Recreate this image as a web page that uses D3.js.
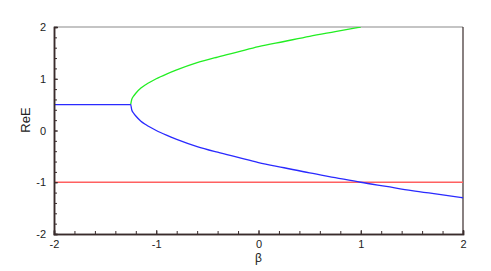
<!DOCTYPE html>
<html>
<head>
<meta charset="utf-8">
<script src="https://cdn.jsdelivr.net/npm/d3@7"></script>
<style>
  body { margin: 0; background: #fff; }
  text { font-family: "Liberation Sans", Arial, sans-serif; }
</style>
</head>
<body>
<svg id="chart" width="491" height="271"></svg>
<script>
// values
const betaUpper = [-1.25, -1.24, -1.22, -1.2, -1.15, -1.1, -1.0, -0.9, -0.8, -0.6, -0.4, -0.2, 0, 0.25, 0.5, 0.75, 1.0]
const reUpper = [0.5, 0.6, 0.67, 0.72, 0.82, 0.89, 1.0, 1.09, 1.17, 1.31, 1.42, 1.52, 1.62, 1.72, 1.82, 1.91, 2.0]

const betaLower = [-2, -1.6, -1.25, -1.24, -1.22, -1.2, -1.15, -1.1, -1.0, -0.9, -0.8, -0.6, -0.4, -0.2, 0, 0.25, 0.5, 0.75, 1.0, 1.25, 1.5, 1.75, 2]
const reLower = [0.5, 0.5, 0.5, 0.4, 0.33, 0.28, 0.18, 0.11, 0.0, -0.09, -0.17, -0.31, -0.42, -0.52, -0.62, -0.72, -0.82, -0.91, -1.0, -1.08, -1.16, -1.23, -1.30]

const betaFlat = [-2, 2]
const reFlat = [-1, -1]

const xTicks = [-2, -1, 0, 1, 2]
const yTicks = [-2, -1, 0, 1, 2]

const margin = { left: 54, top: 27, right: 28, bottom: 37 }
const width = 491 - margin.left - margin.right
const height = 271 - margin.top - margin.bottom

const svg = d3.select('#chart')
const g = svg.append('g').attr('transform', `translate(${margin.left},${margin.top})`)

const xScale = d3.scaleLinear().domain([-2, 2]).range([0, width])
const yScale = d3.scaleLinear().domain([-2, 2]).range([height, 0])

g.append('clipPath').attr('id', 'clip')
  .append('rect').attr('width', width).attr('height', height)

// frame: top and right
g.append('line').attr('x1', 0).attr('x2', width).attr('y1', 0).attr('y2', 0)
  .attr('stroke', '#8a8a8a').attr('stroke-width', 1.2)
g.append('line').attr('x1', width).attr('x2', width).attr('y1', 0).attr('y2', height)
  .attr('stroke', '#3a2c2c').attr('stroke-width', 1.2)

const line = d3.line().x(d => xScale(d[0])).y(d => yScale(d[1])).curve(d3.curveMonotoneX)
const zipped = (xs, ys) => xs.map((x, i) => [x, ys[i]])

const plot = g.append('g').attr('clip-path', 'url(#clip)')
plot.append('path').datum(zipped(betaFlat, reFlat))
  .attr('d', line).attr('fill', 'none').attr('stroke', '#ff6060').attr('stroke-width', 1.5)
plot.append('path').datum(zipped(betaUpper, reUpper))
  .attr('d', line).attr('fill', 'none').attr('stroke', '#22ee22').attr('stroke-width', 1.3)
plot.append('path').datum(zipped(betaLower, reLower))
  .attr('d', line).attr('fill', 'none').attr('stroke', '#2a2aff').attr('stroke-width', 1.3)

// minor ticks every 0.2
const minor = d3.range(-2, 2.001, 0.2).map(v => +v.toFixed(1))
const fmt = d => String(d)

const xAxis = g.append('g').attr('transform', `translate(0,${height})`)
xAxis.append('g')
  .call(d3.axisBottom(xScale).tickValues(minor).tickSize(-3).tickFormat(''))
xAxis.append('g')
  .call(d3.axisBottom(xScale).tickValues(xTicks).tickSize(-4).tickPadding(6).tickFormat(fmt))
xAxis.selectAll('.domain').attr('stroke', '#3a2c2c').attr('stroke-width', 1.5)
xAxis.selectAll('.tick line').attr('stroke', '#3a2c2c')
xAxis.selectAll('text').style('font-size', '11px').attr('fill', '#222')

const yAxis = g.append('g')
yAxis.append('g')
  .call(d3.axisLeft(yScale).tickValues(minor).tickSize(-3).tickFormat(''))
yAxis.append('g')
  .call(d3.axisLeft(yScale).tickValues(yTicks).tickSize(-4).tickPadding(8).tickFormat(fmt))
yAxis.selectAll('.domain').attr('stroke', '#3a2c2c').attr('stroke-width', 1.5)
yAxis.selectAll('.tick line').attr('stroke', '#3a2c2c')
yAxis.selectAll('text').style('font-size', '11px').attr('fill', '#222')

svg.append('text')
  .attr('x', margin.left + xScale(0)).attr('y', 262)
  .attr('text-anchor', 'middle').style('font-size', '12px').attr('fill', '#222')
  .text('β')

svg.append('text')
  .attr('transform', `translate(30,${120}) rotate(-90)`)
  .attr('text-anchor', 'middle').style('font-size', '13px').attr('fill', '#222')
  .text('ReE')
</script>
</body>
</html>
